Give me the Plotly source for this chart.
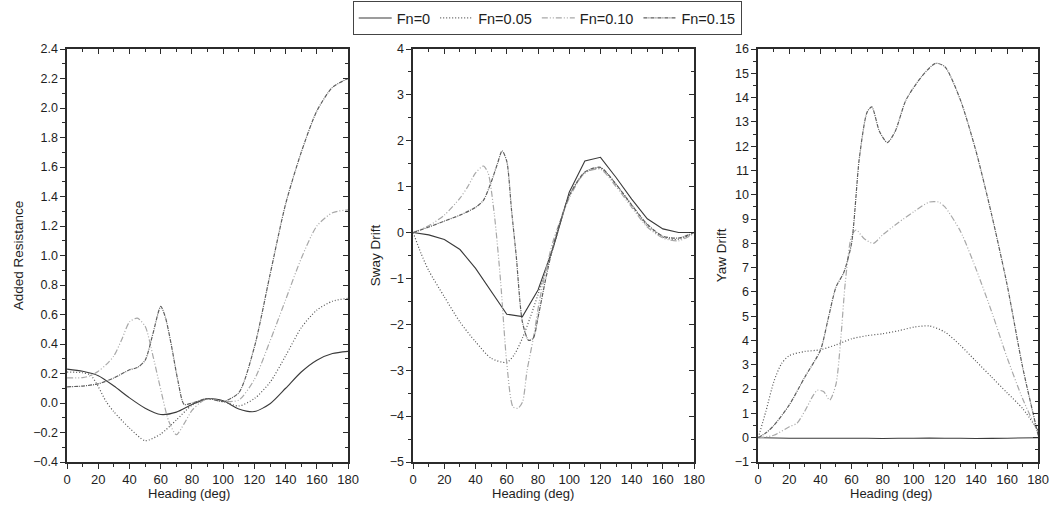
import plotly.graph_objects as go

# ---------------- data ----------------
series_names = ["Fn=0", "Fn=0.05", "Fn=0.10", "Fn=0.15"]

# Added resistance vs heading
ar_h_fn0 = [0, 10, 20, 30, 40, 50, 60, 70, 80, 90, 100, 110, 120, 130, 140, 150, 160, 170, 180]
ar_fn0 = [0.23, 0.215, 0.185, 0.115, 0.035, -0.035, -0.078, -0.062, -0.01, 0.03, 0.015, -0.04,
          -0.058, -0.005, 0.10, 0.21, 0.29, 0.335, 0.35]
ar_h_fn005 = [0, 10, 15, 20, 25, 30, 40, 50, 60, 70, 80, 90, 100, 110, 120, 130, 140, 150, 160, 170, 180]
ar_fn005 = [0.21, 0.205, 0.19, 0.11, 0.01, -0.06, -0.17, -0.255, -0.21, -0.115, -0.015, 0.03, 0.01,
            -0.02, 0.03, 0.14, 0.32, 0.51, 0.63, 0.69, 0.71]
ar_h_fn010 = [0, 10, 15, 20, 25, 30, 35, 40, 45, 50, 55, 60, 65, 70, 75, 80, 85, 90, 100, 110, 120,
              130, 140, 150, 160, 170, 180]
ar_fn010 = [0.17, 0.172, 0.185, 0.215, 0.26, 0.32, 0.43, 0.55, 0.575, 0.52, 0.32, 0.09, -0.12, -0.215,
            -0.14, -0.05, 0.0, 0.03, 0.01, 0.02, 0.16, 0.42, 0.70, 0.98, 1.20, 1.29, 1.31]
ar_h_fn015 = [0, 10, 20, 30, 40, 45, 50, 55, 60, 63, 67, 71, 75, 80, 90, 100, 110, 120, 130, 140, 150,
              160, 170, 180]
ar_fn015 = [0.11, 0.115, 0.13, 0.17, 0.225, 0.24, 0.29, 0.47, 0.655, 0.58, 0.38, 0.15, -0.01, 0.0, 0.03,
            0.01, 0.07, 0.38, 0.87, 1.35, 1.70, 1.98, 2.14, 2.20]

# Sway drift vs heading
sd_h_fn0 = [0, 10, 20, 30, 40, 50, 60, 70, 80, 90, 100, 110, 120, 130, 140, 150, 160, 170, 180]
sd_fn0 = [0, -0.05, -0.15, -0.37, -0.78, -1.28, -1.78, -1.83, -1.25, -0.3, 0.88, 1.56, 1.64, 1.2,
          0.73, 0.3, 0.08, 0.0, 0.0]
sd_h_fn005 = [0, 5, 10, 20, 30, 40, 50, 60, 65, 70, 75, 80, 85, 90, 100, 110, 120, 130, 140, 150, 160,
              170, 180]
sd_fn005 = [0, -0.45, -0.83, -1.4, -1.95, -2.38, -2.74, -2.83, -2.65, -2.3, -1.85, -1.35, -0.85, -0.3,
            0.8, 1.3, 1.4, 1.05, 0.6, 0.15, -0.1, -0.15, 0.0]
sd_h_fn010 = [0, 10, 20, 30, 35, 40, 45, 48, 52, 56, 60, 64, 67, 70, 73, 77, 81, 87, 90, 100, 110, 120,
              130, 140, 150, 160, 170, 180]
sd_fn010 = [0, 0.15, 0.38, 0.75, 1.0, 1.3, 1.45, 1.3, 0.4, -1.05, -2.85, -3.8, -3.83, -3.7, -3.0, -2.3,
            -1.47, -0.53, -0.15, 0.75, 1.3, 1.38, 1.0, 0.55, 0.12, -0.12, -0.18, -0.02]
sd_h_fn015 = [0, 10, 20, 30, 40, 45, 50, 54, 57, 60, 63, 66, 70, 74, 77, 80, 85, 90, 100, 110, 120, 130,
              140, 150, 160, 170, 180]
sd_fn015 = [0, 0.12, 0.25, 0.38, 0.55, 0.7, 1.1, 1.5, 1.78, 1.55, 0.5, -0.5, -1.95, -2.35, -2.3, -1.85,
            -1.0, -0.25, 0.8, 1.32, 1.42, 1.05, 0.6, 0.18, -0.08, -0.12, 0.0]

# Yaw drift vs heading
yd_h_fn0 = [0, 20, 40, 60, 80, 100, 120, 140, 160, 180]
yd_fn0 = [0, -0.02, -0.02, -0.02, -0.03, -0.02, -0.02, -0.03, -0.02, 0.0]
yd_h_fn005 = [0, 5, 10, 15, 20, 30, 40, 50, 60, 70, 80, 90, 100, 110, 120, 130, 140, 150, 160, 170, 180]
yd_fn005 = [0, 1.1, 2.3, 3.05, 3.38, 3.55, 3.62, 3.82, 4.07, 4.2, 4.28, 4.4, 4.55, 4.6, 4.35, 3.8, 3.15,
            2.5, 1.85, 1.2, 0.3]
yd_h_fn010 = [0, 10, 20, 25, 30, 35, 38, 42, 46, 50, 53, 56, 60, 63, 68, 74, 80, 90, 100, 110, 116, 120,
              130, 140, 150, 160, 170, 180]
yd_fn010 = [0, 0.1, 0.45, 0.6, 1.1, 1.7, 1.95, 1.9, 1.55, 2.2, 4.0, 6.4, 8.3, 8.55, 8.2, 8.0, 8.35, 8.85,
            9.3, 9.7, 9.7, 9.5, 8.5, 6.95, 5.2, 3.3, 1.6, 0.2]
yd_h_fn015 = [0, 5, 10, 20, 30, 40, 45, 50, 55, 60, 65, 70, 73, 78, 83, 88, 95, 105, 114, 120, 130, 140,
              150, 160, 170, 180]
yd_fn015 = [0, 0.2, 0.5, 1.35, 2.5, 3.6, 4.9, 6.2, 6.8, 8.0, 11.5, 13.4, 13.62, 12.6, 12.15, 12.6, 13.9,
            14.86, 15.41, 15.27, 13.9, 11.8, 9.2, 6.3, 2.9, 0.1]

x_ticks = [0, 20, 40, 60, 80, 100, 120, 140, 160, 180]

# ---------------- styling ----------------
FONT = "Arial, Liberation Sans, sans-serif"
AX = "#2b2b2b"
TXT = "#1e1e1e"
styles = [
    dict(color="#3a3a3a", width=1.1, dash="solid"),
    dict(color="#555555", width=1.2, dash="1px,2px"),
    dict(color="#a8a8a8", width=1.2, dash="6px,2px,1px,2px,1px,2px"),
    dict(color="#5e5e5e", width=1.2, dash="4px,1px,1px,1px"),
]

panels = [
    dict(title="Added Resistance", yr=[-0.4, 2.4], dt=0.2, fmt=".1f",
         data=[(ar_h_fn0, ar_fn0), (ar_h_fn005, ar_fn005), (ar_h_fn010, ar_fn010), (ar_h_fn015, ar_fn015)],
         spline=[True, True, True, True]),
    dict(title="Sway Drift", yr=[-5, 4], dt=1, fmt="d",
         data=[(sd_h_fn0, sd_fn0), (sd_h_fn005, sd_fn005), (sd_h_fn010, sd_fn010), (sd_h_fn015, sd_fn015)],
         spline=[False, True, True, True]),
    dict(title="Yaw Drift", yr=[-1, 16], dt=1, fmt="d",
         data=[(yd_h_fn0, yd_fn0), (yd_h_fn005, yd_fn005), (yd_h_fn010, yd_fn010), (yd_h_fn015, yd_fn015)],
         spline=[True, True, True, True]),
]

W, H = 1063, 514
PLOT_H = 413
domains = [[64 / W, 349 / W], [415 / W, 700 / W], [765 / W, 1049 / W]]
# caption centres (pixels from the left edge)
xtitle_centres = [188, 537, 900]
ytitle_centres = [15, 377, 728]

fig = go.Figure()
layout = {}
annotations = []

for i, p in enumerate(panels):
    n = i + 1
    xs = "" if n == 1 else str(n)
    xo = str(n + 3)
    # data traces
    for k, (hx, vy) in enumerate(p["data"]):
        st = styles[k]
        fig.add_trace(go.Scatter(
            x=hx, y=vy, mode="lines", name=series_names[k],
            line=dict(color=st["color"], width=st["width"], dash=st["dash"],
                      shape="spline" if p["spline"][k] else "linear", smoothing=0.7),
            xaxis="x" + xs, yaxis="y" + xs, showlegend=(i == 0), hoverinfo="skip"))
    # empty trace so the top/right frame axes get drawn
    fig.add_trace(go.Scatter(x=[None], y=[None], xaxis="x" + xo, yaxis="y" + xo,
                             showlegend=False, hoverinfo="skip"))

    common = dict(showline=True, linecolor=AX, linewidth=1.5, showgrid=False, zeroline=False,
                  tickcolor=AX, tickwidth=1.2)
    layout["xaxis" + xs] = dict(
        domain=domains[i], anchor="y" + xs, range=[0, 180], tickvals=x_ticks,
        ticks="outside", ticklen=5,
        minor=dict(ticks="outside", ticklen=3, dtick=10, tick0=0, tickcolor=AX, tickwidth=1),
        tickfont=dict(family=FONT, size=13, color=TXT),
        **common)
    annotations.append(dict(
        text="Heading (deg)", xref="paper", yref="paper", x=xtitle_centres[i] / W, xanchor="center",
        y=-(494 - 462) / PLOT_H, yanchor="middle", showarrow=False,
        font=dict(family=FONT, size=13, color=TXT)))
    annotations.append(dict(
        text=p["title"], xref="paper", yref="paper", x=ytitle_centres[i] / W, xanchor="center",
        y=0.5, yanchor="middle", textangle=-90, showarrow=False,
        font=dict(family=FONT, size=13.5, color=TXT)))
    layout["yaxis" + xs] = dict(
        domain=[0, 1], anchor="x" + xs, range=p["yr"], dtick=p["dt"], tick0=p["yr"][0],
        tickformat=p["fmt"], ticks="outside", ticklen=5,
        minor=dict(ticks="outside", ticklen=3, dtick=p["dt"] / 2, tick0=p["yr"][0], tickcolor=AX, tickwidth=1),
        tickfont=dict(family=FONT, size=12.5, color=TXT),
        **common)
    # frame axes on top and right with inward ticks
    layout["xaxis" + xo] = dict(
        domain=domains[i], anchor="y" + xo, overlaying="x" + xs, side="top", range=[0, 180],
        tickvals=x_ticks, ticks="inside", ticklen=5, showticklabels=False,
        minor=dict(ticks="inside", ticklen=3, dtick=10, tick0=0, tickcolor=AX, tickwidth=1),
        **common)
    layout["yaxis" + xo] = dict(
        domain=[0, 1], anchor="x" + xo, overlaying="y" + xs, side="right", range=p["yr"],
        dtick=p["dt"], tick0=p["yr"][0], ticks="inside", ticklen=5, showticklabels=False,
        minor=dict(ticks="inside", ticklen=3, dtick=p["dt"] / 2, tick0=p["yr"][0], tickcolor=AX, tickwidth=1),
        **common)

fig.update_layout(
    width=W, height=H,
    margin=dict(l=0, r=0, t=49, b=52),
    paper_bgcolor="white", plot_bgcolor="white",
    font=dict(family=FONT, size=12, color=TXT),
    legend=dict(orientation="h", x=551 / W, xanchor="center", y=(462 - 1) / PLOT_H, yanchor="top",
                bordercolor="#444", borderwidth=1, bgcolor="white",
                font=dict(family=FONT, size=14.5, color=TXT),
                itemwidth=33, tracegroupgap=0),
    annotations=annotations,
    **layout,
)

fig.write_html("out.html")
